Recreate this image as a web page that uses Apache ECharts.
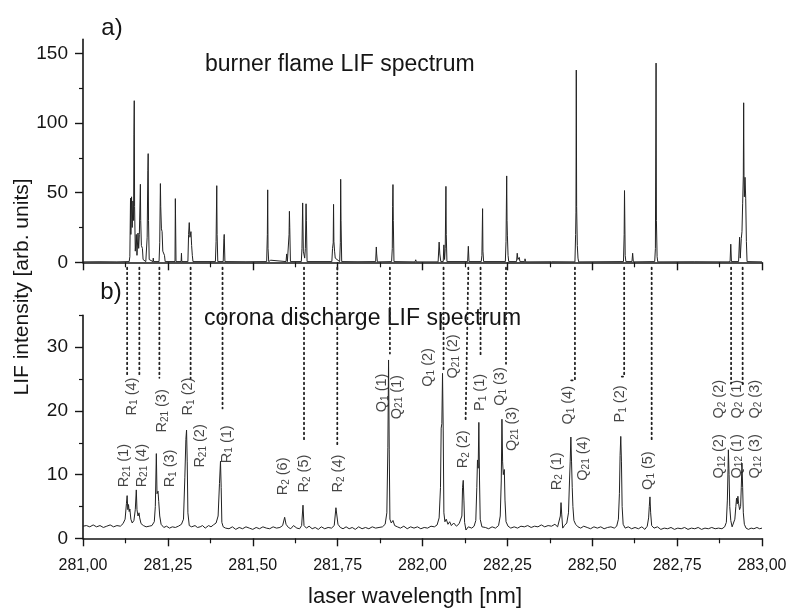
<!DOCTYPE html>
<html><head><meta charset="utf-8">
<script src="https://cdn.jsdelivr.net/npm/echarts@6/dist/echarts.min.js"></script>
<style>html,body{margin:0;padding:0;background:#fff}#c{width:792px;height:612px}</style>
</head><body><div id="c"></div>
<script>
// ---------- DATA ----------
const xMin = 281.0, xMax = 283.0, xStep = 0.25;
const flameTicks = [0, 50, 100, 150];
const flameMinorTicks = [25, 75, 125];
const coronaTicks = [0, 10, 20, 30];
const coronaMinorTicks = [5, 15, 25, 35];

// a) burner flame LIF spectrum  [wavelength nm, intensity]
const flameSpectrum = [
[281.000,0.3],[281.050,0.4],[281.100,0.3],[281.136,0.5],[281.138,4],[281.140,46],[281.141,20],[281.143,47],[281.145,25],[281.147,44],[281.149,30],[281.150,92],[281.151,116],[281.152,40],[281.154,8],[281.157,20],[281.159,5],[281.162,21],[281.164,10],[281.166,20],[281.168,44],[281.169,56],[281.170,30],[281.172,12],[281.175,10],[281.177,2],[281.185,0.5],[281.189,18],[281.191,66],[281.192,78],[281.193,30],[281.195,2],[281.206,0.5],[281.207,3],[281.208,0.5],[281.224,0.5],[281.226,14],[281.228,56.5],[281.229,40],[281.231,24],[281.233,22],[281.235,8],[281.240,5],[281.242,0.5],[281.271,0.5],[281.272,45.7],[281.274,0.5],[281.289,0.5],[281.290,6.5],[281.291,0.5],[281.309,0.5],[281.311,20],[281.313,28.5],[281.315,18],[281.318,22],[281.320,12],[281.322,5],[281.324,0.5],[281.390,0.5],[281.392,15],[281.394,55],[281.395,20],[281.397,0.5],[281.413,0.5],[281.415,17],[281.416,20],[281.418,0.5],
[281.480,0.4],[281.541,0.5],[281.543,20],[281.544,52],[281.545,10],[281.547,0.5],[281.552,0.5],[281.553,1.5],[281.555,0.3],[281.598,0.5],[281.600,6],[281.602,0.5],[281.606,0.5],[281.607,20],[281.608,36.6],[281.609,25],[281.611,0.5],[281.643,0.5],[281.645,10],[281.647,42.6],[281.649,8],[281.653,3],[281.655,10],[281.657,42],[281.658,30],[281.660,0.5],[281.733,0.5],[281.735,10],[281.737,14],[281.738,41.6],[281.739,15],[281.741,8],[281.743,3],[281.756,0.5],[281.758,14],[281.759,59.6],[281.760,30],[281.762,0.5],[281.810,0.4],[281.862,0.5],[281.864,11],[281.865,6],[281.867,0.3],[281.909,0.5],[281.911,10],[281.912,40],[281.913,55.8],[281.914,30],[281.916,0.5],[281.978,0.3],[281.980,1.8],[281.982,0.3],[282.046,0.3],[282.049,14.5],[282.051,6],[282.054,0.5],[282.061,0.5],[282.063,12.5],[282.065,2],[282.067,10],[282.069,54.5],[282.070,20],[282.072,0.5],[282.133,0.5],[282.135,11.5],[282.137,0.5],[282.173,0.5],[282.175,5],[282.177,38.5],[282.178,8],[282.180,0.5],[282.244,0.5],[282.246,15],[282.248,62],[282.249,30],[282.250,19.5],[282.252,5],[282.254,0.5],[282.277,0.5],[282.279,6.5],[282.281,2],[282.285,3.5],[282.287,0.5],[282.301,0.5],[282.302,2.5],[282.304,0.3],[282.380,0.4],[282.449,0.3],[282.451,20],[282.452,36],[282.453,138],[282.454,40],[282.456,12],[282.458,3],[282.460,0.3],[282.592,0.5],[282.594,20],[282.595,51.5],[282.597,5],[282.599,0.5],[282.617,0.5],[282.619,6.5],[282.621,0.3],[282.684,0.5],[282.686,10],[282.688,143],[282.689,30],[282.691,4],[282.693,0.3],[282.800,0.4],[282.900,0.3],[282.906,0.5],[282.908,13],[282.910,0.5],[282.931,0.5],[282.934,18],[282.936,3],[282.939,17],[282.941,22],[282.943,42],[282.945,62],[282.946,114.5],[282.947,62],[282.948,47],[282.950,61],[282.952,46],[282.954,15],[282.956,0.5],[283.000,0.3]
];

// b) corona discharge LIF spectrum  [wavelength nm, intensity]
const coronaSpectrum = [
[281.000,1.9],[281.010,2.0],[281.020,1.8],[281.030,2.1],[281.040,1.8],[281.050,2.0],[281.060,1.7],[281.070,1.9],[281.080,2.1],[281.090,1.8],[281.100,2.0],[281.110,1.9],[281.118,2.3],
[281.124,3.0],[281.128,5.5],[281.130,6.7],[281.132,4.5],[281.134,5.3],[281.136,4.2],[281.138,4.6],[281.141,3.0],[281.145,2.4],[281.150,2.8],[281.154,4.5],[281.157,7.6],[281.159,4.5],[281.162,3.5],[281.165,4.0],[281.167,3.2],[281.171,2.3],[281.178,2.0],[281.186,1.8],[281.195,1.9],[281.203,2.0],[281.210,2.6],[281.213,5.0],[281.216,13.3],[281.218,7.0],[281.221,7.4],[281.223,5.8],[281.226,3.5],[281.230,2.2],[281.238,1.7],[281.246,1.9],[281.255,1.6],[281.263,1.8],[281.272,1.7],[281.281,1.9],[281.290,2.2],[281.296,3.0],[281.300,9.6],[281.303,15.5],[281.305,17.0],[281.307,12.0],[281.309,4.0],[281.313,2.0],[281.320,1.8],[281.330,2.0],[281.337,1.7],[281.345,1.8],[281.352,2.0],[281.360,1.6],[281.370,2.0],[281.377,1.8],[281.384,2.1],[281.392,2.4],[281.398,3.5],[281.402,8.6],[281.405,12.1],[281.407,8.0],[281.409,2.5],[281.413,1.8],[281.420,1.6],
[281.430,1.5],[281.440,1.8],[281.450,1.4],[281.460,1.7],[281.470,1.5],[281.480,1.8],[281.490,1.6],[281.500,1.4],[281.510,1.7],[281.520,1.5],[281.530,1.8],[281.540,1.6],[281.550,1.5],[281.560,1.8],[281.570,1.6],[281.580,1.7],[281.588,2.0],[281.594,3.3],[281.598,2.2],[281.605,1.7],[281.612,1.5],[281.620,2.0],[281.630,1.6],[281.638,1.5],[281.644,2.0],[281.648,5.2],[281.651,2.0],[281.658,1.6],[281.666,1.9],[281.675,1.5],[281.684,1.7],[281.693,1.4],[281.702,1.8],[281.712,1.5],[281.722,1.7],[281.732,1.6],[281.740,2.0],[281.745,4.8],[281.748,5.0],[281.751,2.2],[281.758,1.7],[281.766,1.5],[281.775,1.8],[281.784,1.5],[281.793,1.7],[281.802,1.4],[281.812,1.8],[281.822,1.5],[281.832,1.7],[281.842,1.5],[281.852,1.8],[281.862,1.6],[281.872,1.7],[281.882,1.8],[281.890,2.2],[281.895,4.0],[281.898,14.3],[281.900,28.0],[281.902,14.0],[281.904,3.0],[281.908,2.4],[281.913,2.8],
[281.918,2.0],[281.926,1.8],[281.935,1.6],[281.945,1.9],[281.955,1.5],[281.965,1.8],[281.975,1.6],[281.985,1.8],[281.995,1.5],[282.005,1.7],[282.015,1.6],[282.025,1.9],[282.035,1.8],[282.043,2.1],[282.049,3.2],[282.053,8.0],[282.055,17.3],[282.057,18.0],[282.059,25.9],[282.061,17.0],[282.063,4.0],[282.066,2.6],[282.070,3.0],[282.075,2.2],[282.080,2.6],[282.085,2.0],[282.092,2.4],[282.100,1.9],[282.108,2.3],[282.113,2.0],[282.116,3.5],[282.118,8.0],[282.120,9.1],[282.122,6.0],[282.124,2.5],[282.128,1.3],[282.135,1.8],[282.145,1.6],[282.152,1.9],[282.157,2.8],[282.160,8.0],[282.162,12.3],[282.164,11.0],[282.166,18.2],[282.168,9.0],[282.170,3.0],[282.175,1.8],[282.185,1.7],[282.195,1.5],[282.205,1.8],[282.215,1.6],[282.224,2.0],[282.229,3.5],[282.232,9.0],[282.234,18.7],[282.236,12.0],[282.238,10.0],[282.241,10.8],[282.243,6.0],[282.246,2.6],[282.252,1.9],[282.260,1.6],[282.270,1.8],[282.280,1.6],[282.290,1.9],[282.300,1.8],[282.310,2.0],[282.320,1.7],[282.330,1.9],[282.340,1.8],[282.350,2.1],[282.360,1.8],[282.370,2.0],[282.380,1.9],[282.390,2.2],[282.398,1.8],[282.403,2.0],[282.406,3.5],[282.408,5.6],[282.410,3.8],[282.413,1.6],[282.418,2.0],[282.425,2.4],[282.430,4.0],[282.433,9.0],[282.435,12.0],[282.437,15.9],[282.439,12.0],[282.441,8.0],[282.443,5.0],[282.446,2.8],[282.451,2.2],[282.458,1.8],[282.466,1.6],[282.475,1.9],[282.485,1.7],[282.495,1.5],[282.505,1.8],[282.515,1.6],[282.525,1.8],[282.535,1.5],[282.545,1.7],[282.555,1.8],[282.565,1.6],[282.572,1.9],[282.577,3.0],[282.580,7.0],[282.582,13.0],[282.584,16.0],[282.586,12.0],[282.588,5.0],[282.591,2.2],[282.597,1.6],[282.606,1.8],[282.616,1.5],[282.626,1.7],[282.636,1.5],[282.646,1.8],[282.655,1.4],[282.662,1.9],[282.666,3.2],[282.668,5.0],[282.670,6.5],[282.672,4.0],[282.675,2.0],[282.682,1.6],[282.692,1.8],[282.702,1.4],[282.712,1.6],[282.722,1.5],[282.732,1.7],[282.742,1.4],[282.752,1.6],[282.762,1.5],[282.772,1.7],[282.782,1.4],[282.792,1.6],[282.802,1.5],[282.812,1.7],[282.822,1.4],[282.832,1.6],[282.842,1.5],[282.852,1.7],[282.862,1.5],[282.872,1.6],[282.882,1.5],[282.890,1.8],[282.895,2.5],[282.898,6.0],[282.900,11.0],[282.901,13.9],[282.903,10.0],[282.905,5.0],[282.908,2.8],[282.912,1.8],[282.916,2.0],[282.920,3.0],[282.923,5.0],[282.925,6.3],[282.927,5.4],[282.929,6.6],[282.931,5.5],[282.934,4.5],[282.937,5.0],[282.939,8.0],[282.941,11.8],[282.943,8.0],[282.945,4.0],[282.948,2.2],[282.953,1.6],[282.960,1.4],[282.968,1.6],[282.976,1.5],[282.985,1.7],[282.993,1.5],[283.000,1.6]
];

// line assignments (rotated labels in panel b): name, wavelength, start height
const labelNames = ['R_21 (1)','R_1 (4)','R_21 (4)','R_21 (3)','R_1 (3)','R_1 (2)','R_21 (2)','R_1 (1)','R_2 (6)','R_2 (5)','R_2 (4)',
  'Q_1 (1)','Q_21 (1)','Q_1 (2)','Q_21 (2)','R_2 (2)','P_1 (1)','Q_1 (3)','Q_21 (3)','R_2 (1)','Q_1 (4)','Q_21 (4)','P_1 (2)','Q_1 (5)',
  'Q_2 (2)','Q_2 (1)','Q_2 (3)','Q_12 (2)','Q_12 (1)','Q_12 (3)'];
const labelX = [281.121,281.143,281.173,281.232,281.256,281.310,281.345,281.423,281.590,281.651,281.752,
  281.880,281.924,282.017,282.091,282.120,282.169,282.228,282.263,282.395,282.429,282.474,282.582,282.665,
  282.874,282.925,282.979,282.874,282.925,282.979];
const labelY = [8.0,19.3,8.0,16.6,8.0,19.3,11.1,11.8,6.75,7.2,7.2,
  19.8,18.7,23.8,25.1,11.0,20.0,20.8,13.7,7.55,17.85,9.05,18.2,7.6,
  18.8,18.8,18.8,9.4,9.4,9.4];

// dotted leader lines from panel a down into panel b (panel-b units)
const leaderLines = [
  [[281.130,42.5],[281.130,25.4]],
  [[281.166,42.5],[281.166,25.4]],
  [[281.225,42.5],[281.225,25.2]],
  [[281.317,42.5],[281.317,25.1]],
  [[281.411,42.5],[281.411,20.4]],
  [[281.651,42.5],[281.651,15.3]],
  [[281.749,42.5],[281.749,14.6]],
  [[281.904,42.5],[281.904,29.0]],
  [[282.062,42.5],[282.062,26.5]],
  [[282.135,42.5],[282.127,18.7]],
  [[282.171,42.5],[282.171,28.4]],
  [[282.246,42.5],[282.246,27.4]],
  [[282.449,42.5],[282.449,24.8],[282.438,24.8]],
  [[282.594,42.5],[282.594,25.4],[282.587,25.4]],
  [[282.675,42.5],[282.675,15.2]],
  [[282.909,42.5],[282.909,24.3]],
  [[282.943,42.5],[282.943,23.8]]
];

// ---------- CHART ----------
const FONT = '"Liberation Sans", Arial, Helvetica, sans-serif';
const INK = '#151515';
const chart = echarts.init(document.getElementById('c'), null, {renderer:'canvas'});

function richLabel(s){
  const m = s.match(/^([A-Z])_(\d+)(.*)$/);
  return '{n|' + m[1] + '}{s|' + m[2] + '}{n|' + m[3] + '}';
}
function xAxisCfg(grid, showLabels){
  return {
    type:'value', gridIndex:grid, min:xMin, max:xMax, interval:xStep,
    axisLine:{show:true, onZero:false, lineStyle:{color:INK, width:1.6}},
    axisTick:{show:true, inside:false, length:8, lineStyle:{color:INK, width:1.4}},
    minorTick:{show:true, splitNumber:2, length:5, lineStyle:{color:INK, width:1.2}},
    splitLine:{show:false}, minorSplitLine:{show:false},
    axisLabel:{show:showLabels, margin:19, fontSize:16, color:INK, fontFamily:FONT,
      formatter: v => v.toFixed(2).replace('.', ',')}
  };
}
function yAxisCfg(grid, max, ticks){
  return {
    type:'value', gridIndex:grid, min:0, max:max, position:'left',
    axisLine:{show:true, onZero:false, lineStyle:{color:INK, width:1.6}},
    axisTick:{show:true, length:8, customValues:ticks, lineStyle:{color:INK, width:1.4}},
    axisLabel:{show:true, customValues:ticks, margin:15, fontSize:19, color:INK, fontFamily:FONT},
    splitLine:{show:false}
  };
}
function yMinorCfg(grid, max, ticks){
  return {
    type:'value', gridIndex:grid, min:0, max:max, position:'left', offset:0,
    axisLine:{show:false, onZero:false},
    axisTick:{show:true, length:4, customValues:ticks, lineStyle:{color:INK, width:1.2}},
    axisLabel:{show:false}, splitLine:{show:false}
  };
}

const series = [
  {type:'line', xAxisIndex:0, yAxisIndex:0, data:flameSpectrum, showSymbol:false, symbol:'none',
   lineStyle:{color:'#222', width:1}, silent:true},
  {type:'line', xAxisIndex:1, yAxisIndex:1, data:coronaSpectrum, showSymbol:false, symbol:'none',
   lineStyle:{color:'#222', width:1}, silent:true},
  {type:'scatter', xAxisIndex:1, yAxisIndex:1, symbolSize:0, silent:true,
   data: labelNames.map((n,i)=>({name:n, value:[labelX[i], labelY[i]]})),
   label:{show:true, position:'inside', rotate:90, align:'left', verticalAlign:'middle',
     formatter: p => richLabel(p.name),
     rich:{
       n:{fontSize:14.5, lineHeight:16, fontFamily:FONT, color:INK},
       s:{fontSize:10, lineHeight:10, verticalAlign:'bottom', fontFamily:FONT, color:INK}
     }}
  }
];
leaderLines.forEach(pts => series.push({
  type:'line', xAxisIndex:1, yAxisIndex:1, data:pts, showSymbol:false, symbol:'none', clip:false, silent:true,
  lineStyle:{color:'#222', width:1.8, type:[1.5,3.5], cap:'round'}
}));

chart.setOption({
  animation:false,
  backgroundColor:'#fff',
  grid:[
    {left:83, right:30, top:39.4, height:222.9},
    {left:83, right:30, top:315.4, height:222.9}
  ],
  xAxis:[xAxisCfg(0,false), xAxisCfg(1,true)],
  yAxis:[yAxisCfg(0,160,flameTicks), yAxisCfg(1,35,coronaTicks),
         yMinorCfg(0,160,flameMinorTicks), yMinorCfg(1,35,coronaMinorTicks)],
  series:series,
  graphic:[
    {type:'text', x:112, y:28, style:{text:'a)', fontSize:24, fontFamily:FONT, fill:INK, align:'center', verticalAlign:'middle'}},
    {type:'text', x:111, y:292, style:{text:'b)', fontSize:24, fontFamily:FONT, fill:INK, align:'center', verticalAlign:'middle'}},
    {type:'text', x:205, y:65, style:{text:'burner flame LIF spectrum', fontSize:23, fontFamily:FONT, fill:INK, align:'left', verticalAlign:'middle'}},
    {type:'text', x:204, y:319, style:{text:'corona discharge LIF spectrum', fontSize:23, fontFamily:FONT, fill:INK, align:'left', verticalAlign:'middle'}},
    {type:'text', x:22, y:287, rotation:Math.PI/2, style:{text:'LIF intensity [arb. units]', fontSize:21, fontFamily:FONT, fill:INK, align:'center', verticalAlign:'middle'}},
    {type:'text', x:415, y:597, style:{text:'laser wavelength [nm]', fontSize:22, fontFamily:FONT, fill:INK, align:'center', verticalAlign:'middle'}}
  ]
});
</script></body></html>
